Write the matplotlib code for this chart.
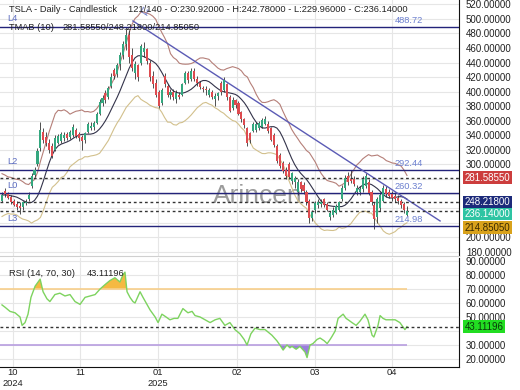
import numpy as np
import pandas as pd
import matplotlib
matplotlib.use('Agg')
import matplotlib.pyplot as plt

plt.rcParams['font.family'] = ['Liberation Sans', 'DejaVu Sans']

# daily candles (oldest first)
opens = [250, 264, 259, 255, 250, 246, 243, 241, 247, 252,
         270, 285, 300, 322, 345, 338, 330, 326, 320, 330,
         332, 336, 342, 338, 340, 348, 342, 338, 333, 345,
         350, 352, 357, 370, 385, 398, 392, 408, 430, 424,
         438, 450, 466, 478, 450, 425, 436, 440, 455, 458,
         440, 422, 412, 400, 385, 422, 408, 396, 400, 390,
         396, 396, 412, 425, 418, 428, 418, 412, 405, 404,
         395, 400, 390, 394, 412, 402, 410, 392, 378, 388,
         385, 372, 362, 350, 343, 346, 348, 350, 352, 356,
         356, 350, 340, 326, 313, 302, 292, 300, 278, 276,
         262, 276, 272, 262, 250, 226, 238, 245, 246, 252,
         246, 228, 230, 234, 238, 252, 268, 284, 280, 280,
         262, 262, 266, 270, 276, 262, 245, 228, 240, 250,
         266, 262, 260, 257, 254, 250, 246, 230.92]
highs = [262, 268, 262, 258, 253, 250, 248, 250, 252, 262,
         288, 296, 322, 358, 350, 345, 335, 330, 340, 342,
         345, 344, 345, 348, 355, 350, 345, 341, 345, 358,
         358, 360, 372, 390, 395, 402, 408, 426, 432, 440,
         455, 470, 488.5, 485, 460, 442, 438, 466, 468, 460,
         444, 428, 418, 402, 405, 426, 410, 404, 403, 402,
         400, 412, 428, 428, 432, 432, 422, 415, 408, 408,
         405, 402, 398, 400, 415, 420, 412, 395, 392, 390,
         387, 374, 364, 352, 345, 358, 358, 360, 364, 366,
         360, 352, 343, 328, 316, 305, 296, 303, 290, 284,
         280, 278, 276, 265, 252, 238, 250, 252, 252, 254,
         248, 236, 242, 246, 250, 272, 286, 290, 292, 284,
         272, 270, 284, 288, 280, 265, 248, 256, 262, 272,
         270, 266, 264, 262, 258, 252, 248, 242.78]
lows = [248, 256, 252, 246, 243, 238, 232, 238, 244, 250,
        268, 283, 298, 318, 330, 326, 316, 309, 318, 328,
        330, 332, 334, 335, 338, 336, 332, 320, 330, 343,
        348, 347, 355, 368, 380, 385, 390, 405, 418, 420,
        430, 445, 457, 440, 428, 418, 415, 436, 448, 438,
        415, 405, 393, 378, 382, 406, 392, 390, 388, 385,
        390, 394, 410, 412, 415, 415, 408, 403, 400, 396,
        392, 390, 380, 388, 396, 400, 388, 372, 375, 378,
        368, 358, 350, 326, 330, 344, 345, 348, 350, 354,
        343, 332, 324, 302, 295, 288, 280, 280, 273, 268,
        258, 262, 260, 245, 220, 222, 234, 240, 242, 242,
        236, 224, 228, 232, 236, 250, 265, 272, 274, 270,
        258, 258, 262, 268, 258, 244, 212, 220, 236, 248,
        256, 254, 250, 248, 246, 240, 234, 229.96]
closes = [258, 259, 254, 249, 245, 241, 240, 248, 249, 258,
          284, 293, 318, 348, 334, 330, 320, 312, 337, 339,
          342, 340, 337, 345, 352, 339, 336, 332, 343, 355,
          353, 357, 369, 386, 391, 389, 405, 420, 422, 436,
          450, 466, 478, 448, 432, 438, 420, 462, 460, 442,
          420, 410, 396, 380, 402, 410, 395, 400, 392, 398,
          393, 410, 425, 416, 428, 418, 412, 406, 404, 402,
          402, 392, 394, 398, 399, 416, 392, 374, 389, 381,
          370, 362, 354, 330, 334, 355, 356, 357, 361, 362,
          346, 334, 327, 305, 298, 291, 284, 283, 288, 281,
          276, 266, 263, 249, 226, 235, 247, 249, 248, 245,
          238, 233, 238, 243, 248, 268, 282, 276, 277, 273,
          268, 267, 280, 284, 261, 248, 225, 252, 258, 268,
          260, 257, 254, 252, 250, 244, 237, 236.14]

# RSI(14) readings (bar index, value)
rsi_bar = [0, 1, 2.7, 4.4, 6.1, 6.8, 7.8, 8.8, 9.8, 11.2, 12.9, 13.9, 15.2, 16.2,
           17.9, 19.6, 21.3, 23, 24.7, 26.4, 28.1, 29.8, 31.5, 33.2, 34.8, 36.5,
           38.2, 39.9, 40.9, 41.6, 42.3, 43.3, 44.3, 45, 46.7, 47.7, 50.1, 51.8,
           52.8, 54.1, 55.5, 56.8, 58.2, 59.5, 61.2, 62.9, 64.3, 65.3, 67, 68.7,
           70.4, 72.1, 73.7, 75.4, 77.1, 78.8, 80.5, 81.9, 82.9, 84.2, 85.6, 87.3,
           89, 91.3, 93, 94, 95.1, 96.4, 97.4, 98.1, 99.5, 100.8, 102.5, 103.2,
           104.2, 105.2, 106.6, 107.6, 109, 110, 111, 111.6, 112.7, 113.7, 115.4,
           116.4, 117.1, 118.4, 119.8, 121.1, 122.8, 123.8, 125.2, 125.8, 127.2,
           127.9, 128.9, 129.9, 131.3, 133, 134.6, 136.3, 137]
rsi_val = [58.6, 57, 54, 53, 50, 44, 46, 52, 64, 72, 77, 68, 63, 61,
           66, 67, 65, 66, 61, 59, 64, 65, 66, 70, 73, 76,
           78, 75, 80, 82, 68, 64, 61, 60, 68, 64, 55, 50,
           46, 52, 50, 48, 49, 49, 56, 53, 54, 51, 50, 48,
           46, 48, 49, 44, 46, 41, 38, 34, 30, 38, 42, 41,
           41, 37, 33, 30, 26.4, 30, 28, 29, 27, 29, 25, 21,
           30, 31, 34, 35, 33, 31, 34, 36, 40, 49, 52,
           49, 48, 46, 44, 47, 52, 48, 37, 35.7, 44,
           51, 49, 48, 48, 48, 46, 41, 43.11196]

levels = [488.72, 292.44, 260.32, 214.98]
level_names = ['L4', 'L2', 'L0', 'L3']
trend_bars = [44.3, 148.2]
trend_prices = [497.0, 222.5]

tmab_last = [281.5855, 248.218, 214.8505]
last_close = 236.14
rsi_last = 43.11196

month_ticks = [3.7, 26.4, 52.8, 79.5, 105.9, 131.9]
month_labels = ['10\n2024', '11', '01\n2025', '02', '03', '04']

GREEN = '#34a77f'
RED = '#dd4b4f'
NAVY = '#23237a'
GRID = '#e6e6e6'
FS = 6.7

W, H = 520, 390


def box(l, t, r, b):
    return [l / W, 1 - b / H, (r - l) / W, (b - t) / H]


def px_text(x, y, s, **kw):
    fig.text(x / W, 1 - y / H, s, va='center', ha='left', fontsize=FS, **kw)


def right_labels(ticks, hidden):
    return ['' if t in hidden else f'{t:.5f}' for t in ticks]


fig = plt.figure(figsize=(W / 100, H / 100), dpi=100)
ax = fig.add_axes(box(0, 0, 459, 256))
ax2 = fig.add_axes(box(0, 258, 459, 367), sharex=ax)

df = pd.DataFrame({'open': opens, 'high': highs, 'low': lows, 'close': closes})
x = np.arange(len(df))
up = df.close >= df.open

# TMAB (10): triangular MA with ATR bands
mid = df.close.rolling(5, min_periods=1).mean().rolling(6, min_periods=1).mean()
prev = df.close.shift(1).fillna(df.open)
tr = pd.concat([df.high - df.low, (df.high - prev).abs(), (df.low - prev).abs()], axis=1).max(axis=1)
atr = tr.rolling(10, min_periods=1).mean()
k = 2.1
ax.plot(x, mid + k * atr, color='#b57f78', lw=0.8, zorder=2)
ax.plot(x, mid, color='#33334a', lw=0.8, zorder=2)
ax.plot(x, mid - k * atr, color='#d2c08c', lw=0.8, zorder=2)

# candles
ax.vlines(x, df.low, df.high, color='#333333', lw=0.6, zorder=3)
body = (df.close - df.open).abs().clip(lower=0.8)
ax.bar(x, body, bottom=df[['open', 'close']].min(axis=1), width=0.7,
       color=np.where(up, GREEN, RED), zorder=4)

# levels
for name, lv in zip(level_names, levels):
    ax.axhline(lv, color=NAVY, lw=1.0, zorder=3)
    ax.annotate(name, xy=(0, lv), xycoords=('axes fraction', 'data'), xytext=(5, 6),
                textcoords='offset points', va='center', fontsize=FS, color='#5a6ac0')
    ax.annotate(f'{lv:.2f}', xy=(395 / 459, lv), xycoords=('axes fraction', 'data'),
                xytext=(0, 5), textcoords='offset points', va='center',
                fontsize=FS, color='#6b7fcf')
ax.plot(trend_bars, trend_prices, color='#5b5bb5', lw=1.0, zorder=3)
ax.annotate('L1', xy=(trend_bars[0], trend_prices[0]), xytext=(3, 3),
            textcoords='offset points', fontsize=FS, color='#5a6ac0', rotation=-33)

for v in [tmab_last[0], tmab_last[1], last_close]:
    ax.axhline(v, color='#333333', lw=1.0, ls=(0, (2, 2)), zorder=3)

ax.text(213 / 459, 1 - 203 / 256, 'Arincen', transform=ax.transAxes, fontsize=19,
        color='#7a7a7a', alpha=0.75, va='baseline', ha='left', zorder=1)

ax.set_xlim(-2 / 2.956, (459 - 2) / 2.956)
ax.set_ylim(174.4, 525.8)
ax.yaxis.tick_right()
price_ticks = list(range(180, 521, 20))
ax.set_yticks(price_ticks)
ax.set_yticklabels(right_labels(price_ticks, {220, 240, 260, 280}))
ax.tick_params(axis='y', length=0, pad=5, labelsize=7, colors='#222222')
ax.tick_params(axis='x', length=0, labelbottom=False)
ax.grid(True, color=GRID, lw=0.8, zorder=0)
ax.set_axisbelow(True)
for s in ['left', 'top']:
    ax.spines[s].set_visible(False)
ax.spines['right'].set_color('#111111')
ax.spines['bottom'].set_color('#d0d0d0')

# value boxes on the right
tags = [(tmab_last[0], tmab_last[0], '#cc3d3d', 'white'),
        (tmab_last[1], tmab_last[1], '#1c2a7a', 'white'),
        (last_close, last_close - 4.1, '#2ec4a3', 'white'),
        (tmab_last[2], tmab_last[2] - 1.9, '#d9a21b', '#3a2a00')]
for val, ypos, fc, tc in tags:
    ax.text(1.012, ypos, f'{val:.5f}', transform=ax.get_yaxis_transform(), va='center',
            ha='left', fontsize=7, color=tc, zorder=10, clip_on=False,
            bbox=dict(boxstyle='square,pad=0.15', fc=fc, ec='none'))

# RSI panel
rb = np.array(rsi_bar)
rv = np.array(rsi_val)
ax2.fill_between(rb, rv, 70, where=rv > 70, interpolate=True, color='#f5b942', lw=0)
ax2.fill_between(rb, rv, 30, where=rv < 30, interpolate=True, color='#9a7fdc', lw=0)
ax2.hlines(70, ax.get_xlim()[0], x[-1], color='#f7cf8a', lw=1.2)
ax2.hlines(30, ax.get_xlim()[0], x[-1], color='#b89ee0', lw=1.2)
ax2.plot(rb, rv, color='#7dd35f', lw=1.0)
ax2.axhline(rsi_last, color='#333333', lw=1.0, ls=(0, (2, 2)))
ax2.text(1.012, rsi_last, f'{rsi_last:.5f}', transform=ax2.get_yaxis_transform(),
         va='center', ha='left', fontsize=7, color='#0a3a0a', clip_on=False,
         bbox=dict(boxstyle='square,pad=0.15', fc='#22dd22', ec='none'))

ax2.set_ylim(14.3, 92.1)
ax2.yaxis.tick_right()
rsi_ticks = list(range(20, 91, 10))
ax2.set_yticks(rsi_ticks)
ax2.set_yticklabels(right_labels(rsi_ticks, {40}))
ax2.tick_params(axis='y', length=0, pad=5, labelsize=7, colors='#222222')
ax2.set_xticks(month_ticks)
ax2.set_xticklabels(month_labels)
ax2.tick_params(axis='x', length=0, pad=1, labelsize=FS, colors='#222222')
ax2.grid(True, color=GRID, lw=0.8, zorder=0)
ax2.set_axisbelow(True)
for s in ['left', 'top']:
    ax2.spines[s].set_visible(False)
ax2.spines['right'].set_color('#111111')
ax2.spines['bottom'].set_color('#111111')

# headers
px_text(9, 9, 'TSLA - Daily - Candlestick', color='#222222')
px_text(128, 9, '121/140 - O:230.92000 - H:242.78000 - L:229.96000 - C:236.14000', color='#222222')
px_text(9, 28, 'TMAB (10)', color='#222222')
px_text(63, 28, '281.58550/248.21800/214.85050', color='#222222')
px_text(9, 273, 'RSI (14, 70, 30)', color='#222222')
px_text(87, 273, '43.11196', color='#222222')

fig.savefig('out.png', dpi=100)
